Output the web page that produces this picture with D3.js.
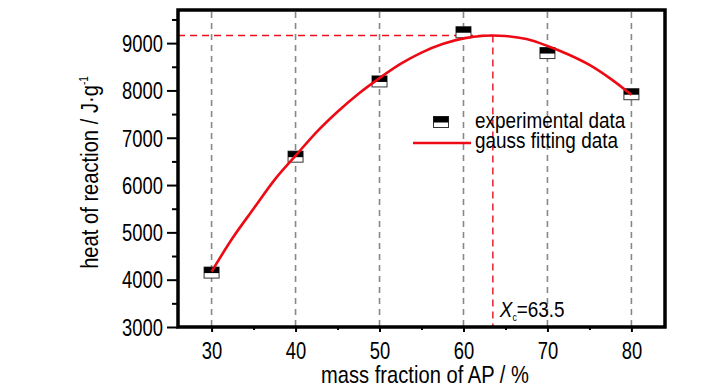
<!DOCTYPE html>
<html><head><meta charset="utf-8">
<script src="https://cdn.jsdelivr.net/npm/d3@7"></script>
<style>body{margin:0;background:#fff}svg{display:block}text{font-family:"Liberation Sans",Arial,sans-serif;fill:#000}</style>
</head><body><div id="c"></div>
<script>
const massFraction = [30, 40, 50, 60, 70, 80];
const heatExperimental = [4150, 6600, 8190, 9230, 8790, 7920];
const fitX = [30, 32.5, 35, 37.5, 40, 42.5, 45, 47.5, 50, 52.5, 55, 57.5, 60, 62.5, 63.5, 65, 67.5, 70, 72.5, 75, 77.5, 80];
const fitY = [4170, 4880, 5500, 6110, 6620, 7120, 7550, 7930, 8260, 8560, 8800, 8980, 9100, 9155, 9160, 9150, 9085, 8940, 8760, 8540, 8250, 7910];
const peakX = 63.5, peakY = 9160;
const xTicks = [30, 40, 50, 60, 70, 80];
const yTicks = [3000, 4000, 5000, 6000, 7000, 8000, 9000];

const W = 728, H = 390;
const L = 178, R = 665, T = 10, B = 327;
const SX = 0.8;
const svg = d3.select("#c").append("svg").attr("width", W).attr("height", H);
const x = d3.scaleLinear().domain([26, 84]).range([L, R]);
const y = d3.scaleLinear().domain([3000, 9700]).range([B, T]);

function ntext(g, px, py, size, sx, anchor) {
  return g.append("text").attr("transform", `translate(${px},${py}) scale(${sx},1)`)
    .attr("font-size", size).attr("text-anchor", anchor || "start");
}

// vertical grid
svg.append("g").selectAll("line").data(xTicks).join("line")
  .attr("x1", d => x(d)).attr("x2", d => x(d)).attr("y1", T + 2).attr("y2", B)
  .attr("stroke", "#888").attr("stroke-width", 1.6).attr("stroke-dasharray", "6,5");

// red dashed guides
svg.append("line").attr("x1", L).attr("x2", x(peakX)).attr("y1", y(peakY)).attr("y2", y(peakY))
  .attr("stroke", "#e8101a").attr("stroke-width", 1.4).attr("stroke-dasharray", "7,5");
svg.append("line").attr("x1", x(peakX)).attr("x2", x(peakX)).attr("y1", y(peakY)).attr("y2", B)
  .attr("stroke", "#e8101a").attr("stroke-width", 1.4).attr("stroke-dasharray", "7,5");

// axes
const yAxis = d3.axisLeft(y).tickValues(yTicks).tickSize(11).tickFormat(d3.format("d"));
const gy = svg.append("g").attr("transform", `translate(${L},0)`).call(yAxis);
gy.select(".domain").remove();
gy.selectAll(".tick line").attr("stroke-width", 2).attr("stroke", "#000");
gy.selectAll("text").attr("font-size", 23).attr("x", -15 / SX).attr("dy", "0.36em")
  .attr("transform", `scale(${SX},1)`).attr("fill", "#000");
const yMinor = d3.axisLeft(y).tickValues([3500,4500,5500,6500,7500,8500,9500]).tickSize(6).tickFormat("");
const gym = svg.append("g").attr("transform", `translate(${L},0)`).call(yMinor);
gym.select(".domain").remove();
gym.selectAll(".tick line").attr("stroke-width", 2).attr("stroke", "#000");

const xAxis = d3.axisBottom(x).tickValues(xTicks).tickSize(5).tickFormat(d3.format("d"));
const gx = svg.append("g").attr("transform", `translate(0,${B})`).call(xAxis);
gx.select(".domain").remove();
gx.selectAll(".tick line").attr("stroke-width", 2).attr("stroke", "#000");
gx.selectAll("text").attr("font-size", 23).attr("y", 32).attr("dy", 0)
  .attr("transform", `scale(${SX},1)`).attr("fill", "#000");
const xMinor = d3.axisBottom(x).tickValues([35,45,55,65,75]).tickSize(3).tickFormat("");
const gxm = svg.append("g").attr("transform", `translate(0,${B})`).call(xMinor);
gxm.select(".domain").remove();
gxm.selectAll(".tick line").attr("stroke-width", 2).attr("stroke", "#000");

// frame
svg.append("rect").attr("x", L).attr("y", T).attr("width", R - L).attr("height", B - T)
  .attr("fill", "none").attr("stroke", "#000").attr("stroke-width", 3.5);

// fit curve
const line = d3.line().x((d, i) => x(fitX[i])).y(d => y(d)).curve(d3.curveMonotoneX);

// markers
function marker(g, cx, cy) {
  const w = 15, h = 11;
  g.append("rect").attr("x", cx - w/2).attr("y", cy - h/2).attr("width", w).attr("height", h)
    .attr("fill", "#fff").attr("stroke", "#333").attr("stroke-width", 1);
  g.append("rect").attr("x", cx - w/2).attr("y", cy - h/2).attr("width", w).attr("height", h/2 + 0.5)
    .attr("fill", "#000");
}
const mg = svg.append("g");
massFraction.forEach((m, i) => marker(mg, x(m), y(heatExperimental[i])));
svg.append("path").datum(fitY).attr("d", line).attr("fill", "none")
  .attr("stroke", "#ee0a14").attr("stroke-width", 2.6);

// legend
const lg = svg.append("g");
marker(lg, 441, 122);
ntext(lg, 475, 128, 22, 0.86).text("experimental data");
lg.append("line").attr("x1", 413).attr("x2", 471).attr("y1", 143).attr("y2", 143)
  .attr("stroke", "#ee0a14").attr("stroke-width", 2.4);
ntext(lg, 475, 148, 22, 0.86).text("gauss fitting data");

// Xc label
const xc = ntext(svg, x(peakX) + 7, 317, 22, 0.86);
xc.append("tspan").attr("font-style", "italic").text("X");
xc.append("tspan").attr("font-size", 10).attr("dy", 4).text("c");
xc.append("tspan").attr("dy", -4).text("=63.5");

// axis titles
ntext(svg, 425, 383, 24, 0.84, "middle").text("mass fraction of AP / %");
const yt = svg.append("text").attr("transform", `translate(98,${(T + B) / 2 + 4}) rotate(-90) scale(0.84,1)`)
  .attr("text-anchor", "middle").attr("font-size", 24);
yt.append("tspan").text("heat of reaction / J·g");
yt.append("tspan").attr("font-size", 12).attr("dy", -10).text("-1");
</script></body></html>
